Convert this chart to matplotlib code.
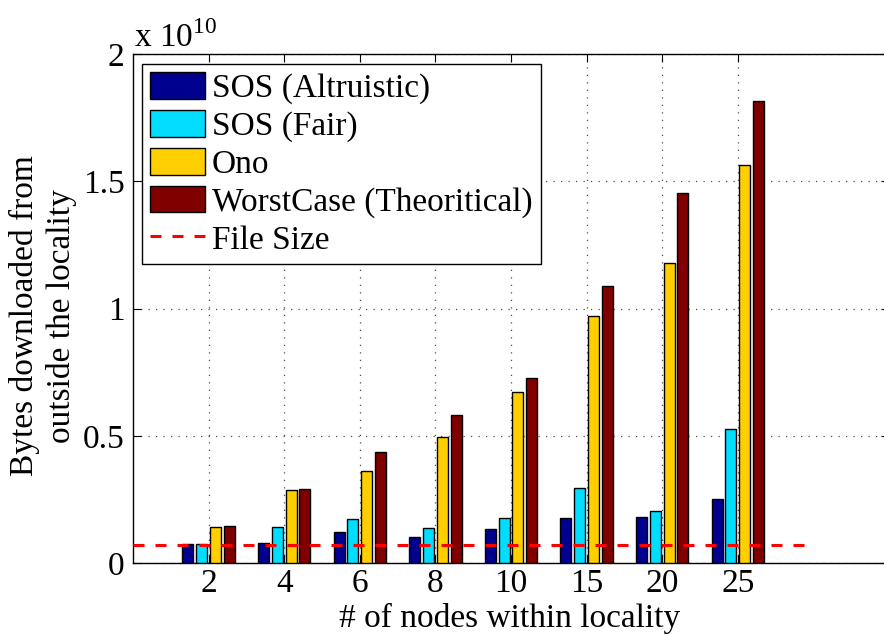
import numpy as np
import matplotlib
matplotlib.use("Agg")
import matplotlib.pyplot as plt

plt.rcParams['font.family'] = ['Liberation Serif', 'DejaVu Serif']
plt.rcParams['mathtext.fontset'] = 'custom'
plt.rcParams['mathtext.rm'] = 'Liberation Serif'

# Number of nodes inside the locality (x categories)
node_counts = ["2", "4", "6", "8", "10", "15", "20", "25"]

# Bytes downloaded from outside the locality, in units of 1e10 bytes
sos_altruistic = [0.075, 0.077, 0.121, 0.102, 0.134, 0.177, 0.179, 0.253]
sos_fair       = [0.076, 0.142, 0.172, 0.139, 0.178, 0.294, 0.205, 0.528]
ono            = [0.143, 0.288, 0.363, 0.497, 0.671, 0.972, 1.180, 1.564]
worst_case     = [0.145, 0.291, 0.436, 0.583, 0.726, 1.089, 1.453, 1.817]
file_size      = 0.072

series_names = ["SOS (Altruistic)", "SOS (Fair)", "Ono", "WorstCase (Theoritical)"]
series_colors = ["#00008F", "#00DDFF", "#FFCF00", "#800000"]
yticks = [0, 0.5, 1, 1.5, 2]
ytick_labels = ["0", "0.5", "1", "1.5", "2"]

FS = 24

fig = plt.figure(figsize=(8.84, 6.35), dpi=100)
ax = fig.add_axes([133 / 884, 72 / 635, 756 / 884, 508.7 / 635])

x = np.arange(1, len(node_counts) + 1)
n = 4
step = (min(0.8, n / (n + 1.5))) / n
width = 0.8 * step
offsets = (np.arange(n) - (n - 1) / 2) * step
all_series = [sos_altruistic, sos_fair, ono, worst_case]
handles = []
for vals, off, col, name in zip(all_series, offsets, series_colors, series_names):
    h = ax.bar(x + off, vals, width=width, color=col, edgecolor='black',
               linewidth=1.0, label=name, zorder=3)
    handles.append(h)

line, = ax.plot([0, 9], [file_size, file_size], color='red', linewidth=2.2,
                linestyle=(0, (3.6, 3.6)), label='File Size', zorder=4)
handles.append(line)

ax.set_xlim(0, 10)
ax.set_ylim(0, 2)
ax.set_xticks(x)
ax.set_xticklabels(node_counts)
ax.set_yticks(yticks)
ax.set_yticklabels(ytick_labels)
ax.tick_params(direction='in', length=6, width=0.8, top=True, right=True,
               labelsize=FS)
ax.tick_params(axis='x', pad=4)
ax.tick_params(axis='y', pad=6)
ax.grid(True, linestyle=(0, (1, 5)), color='0.3', linewidth=0.9, zorder=0)
ax.set_axisbelow(True)
for s in ax.spines.values():
    s.set_linewidth(1.0)

fig.text(510 / 884, 1 - 627 / 635, "# of nodes within locality", fontsize=FS,
         ha='center', va='baseline')
fig.text(43 / 884, 1 - 316 / 635, "Bytes downloaded from\noutside the locality",
         fontsize=FS, ha='center', va='center', rotation=90, linespacing=1.25)

fig.text(134 / 884, 1 - 47 / 635, r"x 10$^{\mathrm{10}}$", fontsize=FS,
         ha='left', va='baseline')

leg = ax.legend(handles=handles, loc='upper left', bbox_to_anchor=(0.012, 0.981),
                borderaxespad=0, fontsize=FS, frameon=True, fancybox=False,
                edgecolor='black', framealpha=1, handlelength=1.64,
                handleheight=0.84, handletextpad=0.2, labelspacing=0.18,
                borderpad=0.25)
leg.get_frame().set_linewidth(1.0)

fig.savefig("out.png", dpi=100)
